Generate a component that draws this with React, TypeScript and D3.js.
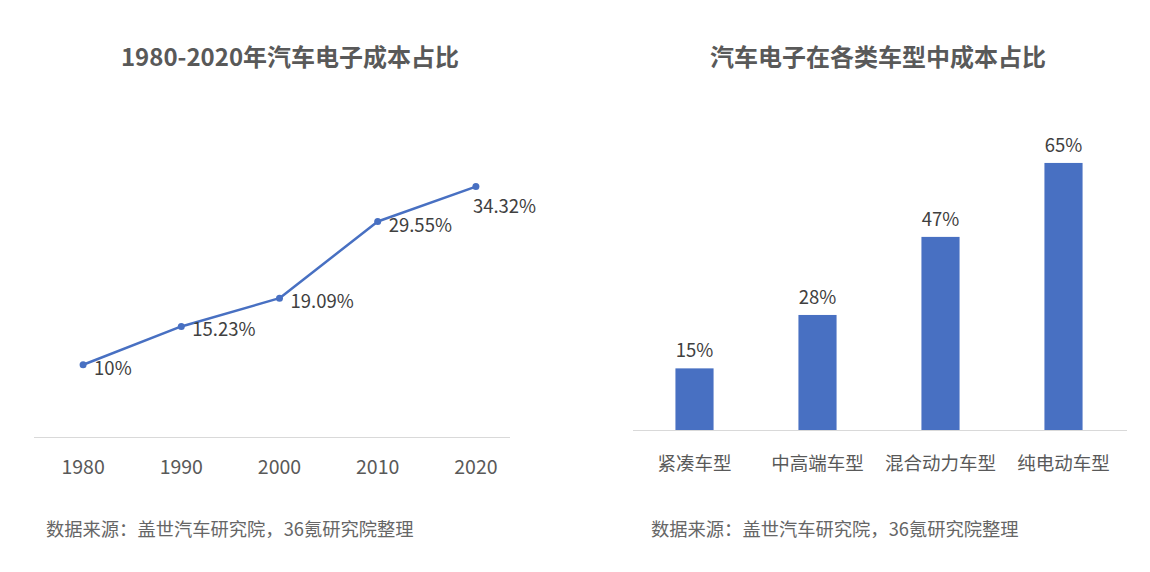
import React from "react";
import * as d3 from "d3";

const years = ["1980", "1990", "2000", "2010", "2020"];
const shareValues = [10, 15.23, 19.09, 29.55, 34.32];
const shareLabels = ["10%", "15.23%", "19.09%", "29.55%", "34.32%"];

const carTypes = ["紧凑车型", "中高端车型", "混合动力车型", "纯电动车型"];
const typeValues = [15, 28, 47, 65];
const typeLabels = ["15%", "28%", "47%", "65%"];

const leftTitle = "1980-2020年汽车电子成本占比";
const rightTitle = "汽车电子在各类车型中成本占比";
const sourceText = "数据来源：盖世汽车研究院，36氪研究院整理";

const FONT = "'Noto Sans CJK SC', 'Noto Sans', sans-serif";
const BLUE = "#4870C2";
const TEXT = "#595959";

export default function App() {
  const W = 1150;
  const H = 572;

  // Left line chart
  const xL = d3.scalePoint<string>().domain(years).range([34, 525]).padding(0.5);
  const yL = d3.scaleLinear().domain([0, 40]).range([438, 145]);
  const line = d3
    .line<number>()
    .x((_, i) => xL(years[i]) as number)
    .y((d) => yL(d));

  // Right bar chart
  const xR = d3
    .scaleBand<string>()
    .domain(carTypes)
    .range([633, 1125])
    .paddingInner(0.69)
    .paddingOuter(0.345);
  const yR = d3.scaleLinear().domain([0, 70]).range([430, 142.4]);

  return (
    <svg
      width={W}
      height={H}
      style={{ position: "absolute", left: 0, top: 0, background: "#fff" }}
      fontFamily={FONT}
    >
      <rect x={0} y={0} width={W} height={H} fill="#fff" />

      {/* Left chart */}
      <text x={290} y={55} textAnchor="middle" dominantBaseline="central" fontSize={24} fontWeight="bold" fill={TEXT}>
        {leftTitle}
      </text>
      <line x1={34} x2={510} y1={437.5} y2={437.5} stroke="#d9d9d9" strokeWidth={1} />
      {years.map((y) => (
        <text key={y} x={xL(y)} y={465} textAnchor="middle" dominantBaseline="central" fontSize={19.5} fill={TEXT}>
          {y}
        </text>
      ))}
      <path d={line(shareValues) || ""} fill="none" stroke={BLUE} strokeWidth={2.5} strokeLinejoin="round" />
      {shareValues.map((v, i) => (
        <circle key={i} cx={xL(years[i])} cy={yL(v)} r={3.5} fill={BLUE} />
      ))}
      {shareValues.map((v, i) => {
        const last = i === shareValues.length - 1;
        const px = xL(years[i]) as number;
        const py = yL(v);
        return (
          <text
            key={"l" + i}
            x={last ? px - 3 : px + 11}
            y={last ? py + 18 : py + 2}
            dominantBaseline="central"
            fontSize={18.5}
            fill="#404040"
          >
            {shareLabels[i]}
          </text>
        );
      })}
      <text x={46} y={528} dominantBaseline="central" fontSize={18.3} fill="#666">
        {sourceText}
      </text>

      {/* Right chart */}
      <text x={878} y={55} textAnchor="middle" dominantBaseline="central" fontSize={24} fontWeight="bold" fill={TEXT}>
        {rightTitle}
      </text>
      {typeValues.map((v, i) => (
        <rect
          key={carTypes[i]}
          x={xR(carTypes[i])}
          y={yR(v)}
          width={xR.bandwidth()}
          height={yR(0) - yR(v)}
          fill={BLUE}
        />
      ))}
      <line x1={633} x2={1127} y1={430.5} y2={430.5} stroke="#d9d9d9" strokeWidth={1} />
      {typeValues.map((v, i) => (
        <text
          key={"v" + i}
          x={(xR(carTypes[i]) as number) + xR.bandwidth() / 2}
          y={yR(v) - 19}
          textAnchor="middle"
          dominantBaseline="central"
          fontSize={18.5}
          fill="#404040"
        >
          {typeLabels[i]}
        </text>
      ))}
      {carTypes.map((c) => (
        <text
          key={c}
          x={(xR(c) as number) + xR.bandwidth() / 2}
          y={462}
          textAnchor="middle"
          dominantBaseline="central"
          fontSize={18.5}
          fill={TEXT}
        >
          {c}
        </text>
      ))}
      <text x={651} y={528} dominantBaseline="central" fontSize={18.3} fill="#666">
        {sourceText}
      </text>
    </svg>
  );
}
